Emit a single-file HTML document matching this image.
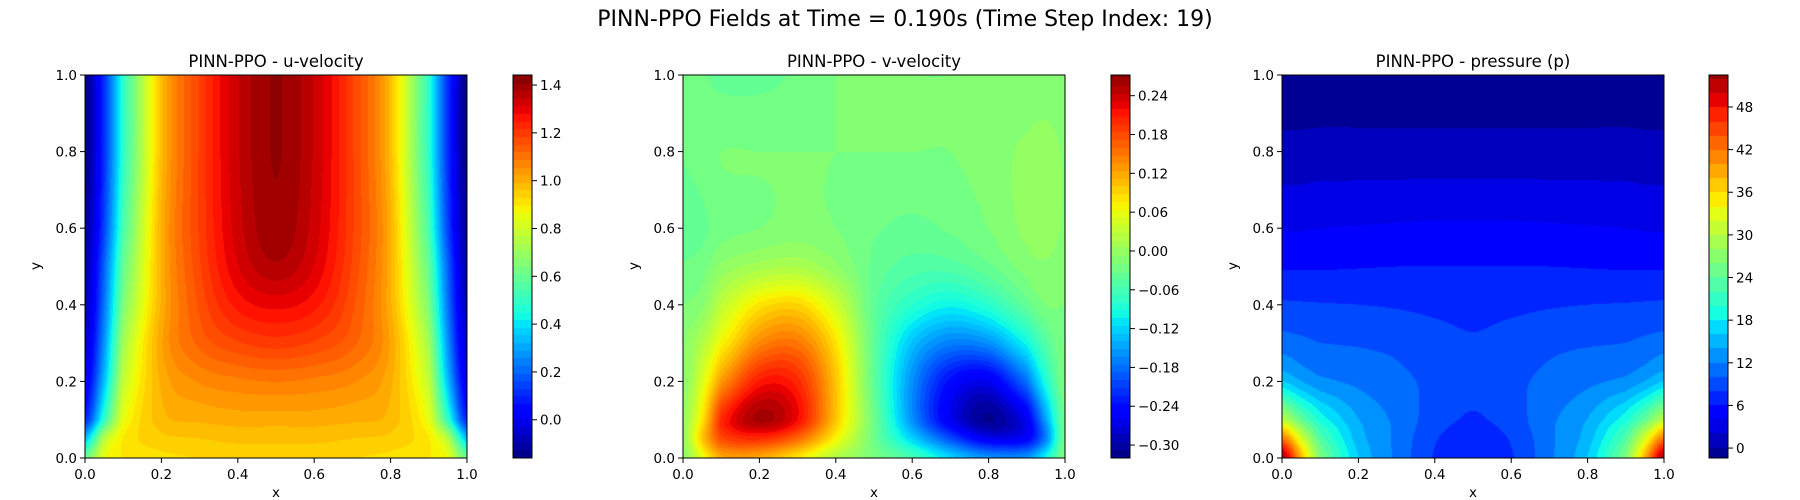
<!DOCTYPE html>
<html><head><meta charset="utf-8"><style>
body{margin:0;background:#fff;width:1800px;height:500px;overflow:hidden;position:relative;font-family:"DejaVu Sans","Liberation Sans",sans-serif}
canvas{position:absolute}
svg{position:absolute;left:0;top:0}
</style></head><body>
<canvas id="c1" style="left:85px;top:75px" width="382" height="383"></canvas>
<canvas id="c2" style="left:683px;top:75px" width="382" height="383"></canvas>
<canvas id="c3" style="left:1282px;top:75px" width="382" height="383"></canvas>
<canvas id="b1" style="left:513px;top:75px" width="19" height="383"></canvas>
<canvas id="b2" style="left:1111px;top:75px" width="19" height="383"></canvas>
<canvas id="b3" style="left:1709px;top:75px" width="19" height="383"></canvas>
<svg id="ov" width="1800" height="500">
<text x="905" y="26" font-size="22" text-anchor="middle">PINN-PPO Fields at Time = 0.190s (Time Step Index: 19)</text>
</svg>
<script>
const X=[0,0.05,0.1,0.2,0.3,0.4,0.5,0.6,0.7,0.8,0.9,0.95,1];
const Y=[0,0.05,0.1,0.2,0.3,0.4,0.5,0.6,0.8,1];
const uGrid=[
[0.6,0.85,0.9,0.92,0.93,0.94,0.94,0.94,0.93,0.92,0.9,0.85,0.6],
[0.35,0.75,0.9,0.95,0.96,0.97,0.97,0.97,0.96,0.95,0.9,0.75,0.35],
[0.1,0.5,0.85,0.98,1.0,1.01,1.01,1.01,1.0,0.98,0.85,0.5,0.1],
[0.0,0.35,0.78,1.0,1.06,1.08,1.09,1.08,1.06,1.0,0.78,0.35,0.0],
[-0.05,0.28,0.72,1.02,1.13,1.18,1.2,1.18,1.13,1.02,0.72,0.28,-0.05],
[-0.08,0.23,0.65,1.0,1.16,1.26,1.29,1.26,1.16,1.0,0.65,0.23,-0.08],
[-0.1,0.2,0.6,1.0,1.18,1.31,1.37,1.31,1.18,1.0,0.6,0.2,-0.1],
[-0.12,0.15,0.55,1.0,1.19,1.33,1.4,1.33,1.19,1.0,0.55,0.15,-0.12],
[-0.15,0.12,0.5,0.98,1.19,1.34,1.41,1.34,1.19,0.98,0.5,0.12,-0.15],
[-0.15,0.12,0.5,0.98,1.19,1.34,1.41,1.34,1.19,0.98,0.5,0.12,-0.15]];
const vGrid=[
[-0.01,0.06,0.12,0.12,0.08,0.02,-0.02,-0.06,-0.12,-0.16,-0.16,-0.1,-0.02],
[0,0.1,0.18,0.2,0.16,0.07,-0.03,-0.12,-0.2,-0.26,-0.25,-0.17,-0.03],
[0,0.08,0.2,0.26,0.22,0.1,-0.03,-0.16,-0.26,-0.31,-0.26,-0.15,-0.03],
[-0.01,0.05,0.13,0.21,0.2,0.1,-0.04,-0.16,-0.24,-0.26,-0.18,-0.09,-0.02],
[-0.01,0.02,0.07,0.14,0.15,0.08,-0.04,-0.13,-0.17,-0.16,-0.1,-0.05,-0.02],
[-0.02,-0.01,0.03,0.08,0.09,0.04,-0.04,-0.08,-0.1,-0.08,-0.04,-0.02,-0.02],
[-0.03,-0.025,-0.005,0.01,0.015,-0.005,-0.035,-0.05,-0.05,-0.035,-0.015,-0.01,-0.015],
[-0.04,-0.035,-0.025,-0.02,-0.015,-0.02,-0.03,-0.035,-0.03,-0.02,-0.005,0,-0.01],
[-0.03,-0.025,-0.02,-0.02,-0.02,-0.02,-0.02,-0.02,-0.02,-0.015,-0.005,0,-0.01],
[-0.02,-0.03,-0.035,-0.035,-0.03,-0.02,-0.02,-0.02,-0.02,-0.02,-0.02,-0.02,-0.02]];
const pGrid=[
[52,38,26,16,11.5,7.8,6.3,7.8,11.5,16,26,38,52],
[42,32,23,15,11.5,8.2,6.8,8.2,11.5,15,23,32,42],
[30,24,19,14,11.5,9,7.8,9,11.5,14,19,24,30],
[16,14,12.5,11.5,10.5,9.5,8.5,9.5,10.5,11.5,12.5,14,16],
[11,10.5,10,9.8,9.5,8.8,8.2,8.8,9.5,9.8,10,10.5,11],
[8.3,8.2,8.1,8.0,7.8,7.5,7.3,7.5,7.8,8.0,8.1,8.2,8.3],
[5.8,5.8,5.8,5.9,6,6,6,6,6,5.9,5.8,5.8,5.8],
[3.8,3.8,4.0,4.1,4.2,4.3,4.3,4.3,4.2,4.1,4.0,3.8,3.8],
[0.7,0.7,0.8,0.8,0.8,0.8,0.8,0.8,0.8,0.8,0.8,0.7,0.7],
[-1.2,-1.2,-1.2,-1.2,-1.2,-1.2,-1.2,-1.2,-1.2,-1.2,-1.2,-1.2,-1.2]];
const uTicks=[0,0.2,0.4,0.6,0.8,1.0,1.2,1.4];
const vTicks=[-0.30,-0.24,-0.18,-0.12,-0.06,0.00,0.06,0.12,0.18,0.24];
const pTicks=[0,6,12,18,24,30,36,42,48];
const axTicks=[0,0.2,0.4,0.6,0.8,1.0];

const JR=[[0,0],[0.35,0],[0.66,1],[0.89,1],[1,0.5]];
const JG=[[0,0],[0.125,0],[0.375,1],[0.64,1],[0.91,0],[1,0]];
const JB=[[0,0.5],[0.11,1],[0.34,1],[0.65,0],[1,0]];
function seg(S,t){for(let i=0;i<S.length-1;i++){if(t<=S[i+1][0]){const a=S[i],b=S[i+1];return a[1]+(b[1]-a[1])*(t-a[0])/(b[0]-a[0]);}}return S[S.length-1][1];}
function jet(t){t=Math.max(0,Math.min(1,t));return [Math.round(seg(JR,t)*255),Math.round(seg(JG,t)*255),Math.round(seg(JB,t)*255)];}
function fidx(arr,v){for(let i=0;i<arr.length-1;i++){if(v<=arr[i+1])return i+(v-arr[i])/(arr[i+1]-arr[i]);}return arr.length-1;}
function cr(p0,p1,p2,p3,t){return 0.5*((2*p1)+(-p0+p2)*t+(2*p0-5*p1+4*p2-p3)*t*t+(-p0+3*p1-3*p2+p3)*t*t*t);}
function interp(G,x,y){const fx=fidx(X,x),fy=fidx(Y,y);const nx=X.length,ny=Y.length;
 const i=Math.min(nx-2,Math.floor(fx)),j=Math.min(ny-2,Math.floor(fy));const tx=fx-i,ty=fy-j;
 const g=(r,c)=>G[Math.max(0,Math.min(ny-1,r))][Math.max(0,Math.min(nx-1,c))];
 const row=(r)=>cr(g(r,i-1),g(r,i),g(r,i+1),g(r,i+2),tx);
 return cr(row(j-1),row(j),row(j+1),row(j+2),ty);}
function levelColor(v,lo,hi,step){const n=Math.round((hi-lo)/step);let k=Math.floor((v-lo)/step);k=Math.max(0,Math.min(n-1,k));
 return jet((k+0.5)/n);}
function drawField(id,G,lo,hi,step){const c=document.getElementById(id),ctx=c.getContext('2d');
 const W=c.width,H=c.height,img=ctx.createImageData(W,H);
 for(let py=0;py<H;py++)for(let px=0;px<W;px++){const x=px/(W-1),y=1-py/(H-1);
  const col=levelColor(interp(G,x,y),lo,hi,step);const o=(py*W+px)*4;
  img.data[o]=col[0];img.data[o+1]=col[1];img.data[o+2]=col[2];img.data[o+3]=255;}
 ctx.putImageData(img,0,0);}
function drawBar(id,lo,hi,step,vmin,vmax){const c=document.getElementById(id),ctx=c.getContext('2d');
 for(let py=0;py<c.height;py++){const v=vmax-(py/(c.height-1))*(vmax-vmin);const col=levelColor(v,lo,hi,step);
  ctx.fillStyle=`rgb(${col[0]},${col[1]},${col[2]})`;ctx.fillRect(0,py,c.width,1);}}
drawField('c1',uGrid,-0.16,1.44,0.032);drawBar('b1',-0.16,1.44,0.032,-0.16,1.442);
drawField('c2',vGrid,-0.32,0.28,0.012);drawBar('b2',-0.32,0.28,0.012,-0.32,0.272);
drawField('c3',pGrid,-2,54,2);drawBar('b3',-2,54,2,-1.4,52.5);

const NS='http://www.w3.org/2000/svg',ov=document.getElementById('ov');
function el(tag,attrs,txt){const e=document.createElementNS(NS,tag);for(const k in attrs)e.setAttribute(k,attrs[k]);if(txt!==undefined)e.textContent=txt;ov.appendChild(e);return e;}
const TOP=75,BOT=458;
function axes(L,title,key){
 const f=el('rect',{x:L,y:TOP,width:382,height:BOT-TOP,fill:'none',stroke:'#000','stroke-width':1});
 
 
 const t=el('text',{x:L+191,y:67,'font-size':16.5,'text-anchor':'middle'},title);
 
 
 axTicks.forEach(v=>{const px=L+v*382,py=BOT-v*(BOT-TOP);
  el('line',{x1:px,y1:BOT,x2:px,y2:BOT+5,stroke:'#000'});
  const xt=el('text',{x:px,y:479,'font-size':13.5,'text-anchor':'middle'},v.toFixed(1));
  
  
  el('line',{x1:L-5,y1:py,x2:L,y2:py,stroke:'#000'});
  const yt=el('text',{x:L-8,y:py+5,'font-size':13.5,'text-anchor':'end'},v.toFixed(1));
  
  });
 const xl=el('text',{x:L+191,y:497,'font-size':13.5,'text-anchor':'middle'},'x');
 
 
 const yl=el('text',{x:L-45,y:266,'font-size':13.5,'text-anchor':'middle',transform:`rotate(-90 ${L-45} 266)`},'y');
 
 }
function cbar(L,ticks,vmin,vmax,fmt,key){
 const f=el('rect',{x:L,y:TOP,width:19,height:BOT-TOP,fill:'none',stroke:'#000','stroke-width':1});
 
 
 ticks.forEach(v=>{const py=BOT-(v-vmin)/(vmax-vmin)*(BOT-TOP);
  el('line',{x1:L+19,y1:py,x2:L+24,y2:py,stroke:'#000'});
  const t=el('text',{x:L+27,y:py+5,'font-size':13.5},fmt(v));
  
  });}
axes(85,'PINN-PPO - u-velocity','u');
axes(683,'PINN-PPO - v-velocity','v');
axes(1282,'PINN-PPO - pressure (p)','p');
cbar(513,uTicks,-0.16,1.442,v=>v.toFixed(1),'u');
cbar(1111,vTicks,-0.32,0.272,v=>(v<0?'\u2212':'')+Math.abs(v).toFixed(2),'v');
cbar(1709,pTicks,-1.4,52.5,v=>String(v),'p');
</script>
</body></html>
